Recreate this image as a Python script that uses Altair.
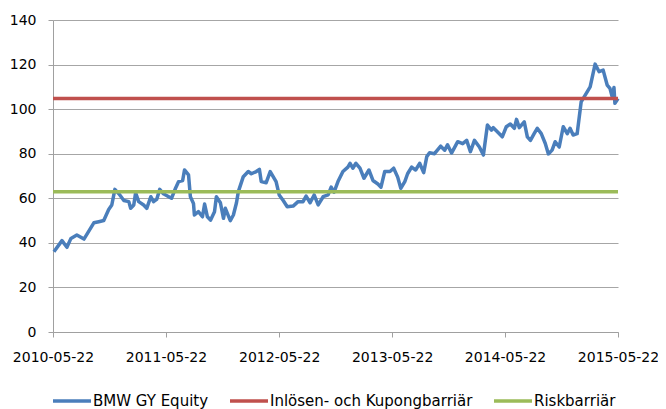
import altair as alt
import pandas as pd

# ---- data ----
dates = [
    "2010-05-25", "2010-06-20", "2010-07-06", "2010-07-19", "2010-08-07", "2010-08-30",
    "2010-10-01", "2010-10-17", "2010-11-02", "2010-11-18", "2010-11-28", "2010-12-08",
    "2010-12-21", "2011-01-06", "2011-01-22", "2011-01-28", "2011-02-07", "2011-02-13",
    "2011-02-23", "2011-03-11", "2011-03-21", "2011-04-03", "2011-04-12", "2011-04-22",
    "2011-05-02", "2011-05-14", "2011-05-31", "2011-06-09", "2011-06-22", "2011-07-02",
    "2011-07-15", "2011-07-21", "2011-08-03", "2011-08-09", "2011-08-19", "2011-08-22",
    "2011-09-04", "2011-09-17", "2011-09-24", "2011-10-03", "2011-10-13", "2011-10-26",
    "2011-11-01", "2011-11-14", "2011-11-24", "2011-11-30", "2011-12-16", "2011-12-26",
    "2012-01-05", "2012-01-11", "2012-01-27", "2012-02-12", "2012-02-22", "2012-03-09",
    "2012-03-19", "2012-03-25", "2012-04-10", "2012-04-23", "2012-05-12", "2012-05-22",
    "2012-06-04", "2012-06-17", "2012-07-06", "2012-07-22", "2012-08-07", "2012-08-17",
    "2012-08-30", "2012-09-12", "2012-09-25", "2012-10-11", "2012-10-27", "2012-11-06",
    "2012-11-15", "2012-11-28", "2012-12-14", "2012-12-30", "2013-01-06", "2013-01-15",
    "2013-01-25", "2013-02-07", "2013-02-20", "2013-03-08", "2013-03-21", "2013-04-06",
    "2013-04-16", "2013-04-28", "2013-05-15", "2013-05-27", "2013-06-09", "2013-06-19",
    "2013-07-02", "2013-07-11", "2013-07-24", "2013-08-06", "2013-08-19", "2013-09-01",
    "2013-09-11", "2013-09-20", "2013-10-06", "2013-10-26", "2013-11-08", "2013-11-17",
    "2013-11-30", "2013-12-20", "2014-01-05", "2014-01-18", "2014-01-30", "2014-02-12",
    "2014-02-28", "2014-03-13", "2014-03-26", "2014-04-08", "2014-04-14", "2014-04-27",
    "2014-05-13", "2014-05-26", "2014-06-08", "2014-06-21", "2014-06-28", "2014-07-07",
    "2014-07-23", "2014-08-02", "2014-08-12", "2014-08-24", "2014-09-03", "2014-09-16",
    "2014-09-29", "2014-10-09", "2014-10-21", "2014-10-31", "2014-11-13", "2014-11-26",
    "2014-12-09", "2014-12-18", "2014-12-28", "2015-01-10", "2015-01-23", "2015-02-05",
    "2015-02-21", "2015-03-09", "2015-03-22", "2015-04-04", "2015-04-17", "2015-04-26",
    "2015-05-03", "2015-05-09", "2015-05-12", "2015-05-22",
]
bmw = [
    36.0, 41.0, 38.0, 42.0, 43.5, 41.7,
    49.0, 49.5, 50.0, 55.0, 57.0, 64.0,
    62.0, 59.0, 58.5, 55.5, 57.0, 62.5,
    58.5, 57.0, 55.5, 60.7, 58.5, 59.5,
    64.0, 62.0, 60.7, 60.0, 64.5, 67.5,
    68.0, 72.7, 70.5, 60.7, 57.7, 52.5,
    54.0, 51.7, 57.4, 51.7, 50.2, 54.0,
    60.7, 58.0, 51.0, 55.5, 50.0, 52.5,
    58.0, 63.0, 69.7, 72.0, 71.0, 72.0,
    73.0, 67.5, 67.0, 72.0, 67.5, 61.5,
    59.0, 56.2, 56.5, 58.5, 58.5, 61.0,
    58.0, 61.5, 57.0, 60.7, 61.5, 65.0,
    62.7, 67.5, 72.0, 74.0, 75.7, 73.5,
    75.7, 73.5, 69.0, 72.7, 68.0, 66.4,
    65.0, 72.0, 72.0, 73.5, 69.5, 64.5,
    67.5, 71.0, 74.0, 72.7, 75.7, 71.5,
    78.7, 80.4, 80.0, 83.4, 81.6, 84.0,
    80.3, 85.4, 84.5, 86.0, 80.9, 86.0,
    83.0, 79.4, 92.9, 90.6, 91.7, 89.9,
    87.6, 92.1, 93.3, 91.4, 95.4, 91.7,
    94.3, 87.6, 86.0, 89.0, 91.4, 89.0,
    84.6, 79.9, 81.6, 85.4, 83.0, 92.1,
    89.0, 91.4, 88.4, 89.0, 103.3, 106.3,
    110.0, 120.2, 116.8, 117.5, 110.8, 109.3,
    105.6, 109.7, 102.6, 104.8,
]
barrier_dates = ["2010-05-22", "2015-05-22"]
kupong = [104.8, 104.8]
risk = [62.9, 62.9]

series_names = ["BMW GY Equity", "Inlösen- och Kupongbarriär", "Riskbarriär"]
series_colors = ["#4A7EBB", "#C0504D", "#9BBB59"]
y_ticks = [0, 20, 40, 60, 80, 100, 120, 140]
x_tick_years = [2010, 2011, 2012, 2013, 2014, 2015]

rows = [{"series": series_names[0], "date": d, "value": v} for d, v in zip(dates, bmw)]
rows += [{"series": series_names[1], "date": d, "value": v} for d, v in zip(barrier_dates, kupong)]
rows += [{"series": series_names[2], "date": d, "value": v} for d, v in zip(barrier_dates, risk)]
df = pd.DataFrame(rows)

tick_vals = [alt.DateTime(year=y, month=5, date=22, utc=True) for y in x_tick_years]
FONT = "DejaVu Sans"

chart = alt.Chart(df).mark_line(strokeWidth=3.5, strokeJoin="round").encode(
    x=alt.X(
        "date:T",
        scale=alt.Scale(type="utc", domain=[tick_vals[0], tick_vals[-1]]),
        axis=alt.Axis(
            values=tick_vals, labelExpr="utcFormat(datum.value, '%Y-%m-%d')", title=None,
            grid=False, tickSize=5, tickColor="#A0A0A0", domainColor="#A0A0A0",
            labelFont=FONT, labelFontSize=14, labelColor="black",
            labelPadding=13, labelFlush=False, labelOverlap=False,
        ),
    ),
    y=alt.Y(
        "value:Q",
        scale=alt.Scale(domain=[0, 140], nice=False),
        axis=alt.Axis(
            values=y_ticks, title=None, grid=True, gridColor="#A6A6A6",
            tickSize=5, tickColor="#A0A0A0", domainColor="#A0A0A0",
            labelFont=FONT, labelFontSize=14, labelColor="black",
            labelPadding=12,
        ),
    ),
    color=alt.Color(
        "series:N",
        scale=alt.Scale(domain=series_names, range=series_colors),
        title=None,
        legend=alt.Legend(
            orient="none", legendX=-2, legendY=360, direction="horizontal",
            columns=3, symbolType="stroke", symbolSize=1444, symbolStrokeWidth=3.5,
            labelFont=FONT, labelFontSize=15, labelColor="black", labelLimit=400,
            columnPadding=14, labelOffset=0, padding=0,
        ),
    ),
).properties(
    width=565, height=312, autosize="none",
    padding={"left": 45, "top": 12, "right": 40, "bottom": 90},
).configure_view(stroke=None)

chart.save("out.html", embed_options={"renderer": "svg", "actions": False})
